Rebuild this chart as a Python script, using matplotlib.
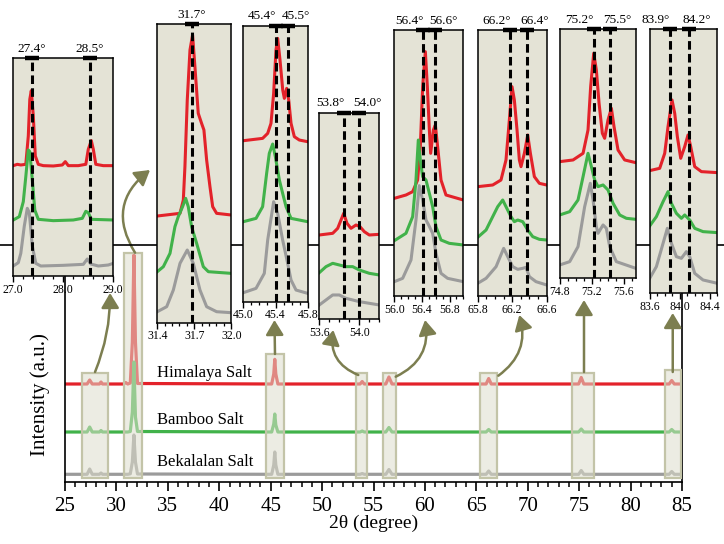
import numpy as np
import matplotlib
matplotlib.use('Agg')
import matplotlib.pyplot as plt
from matplotlib.patches import Rectangle, FancyArrowPatch
from matplotlib.lines import Line2D
from matplotlib.ticker import FixedLocator

plt.rcParams['font.family'] = ['Liberation Serif', 'DejaVu Serif']

# ---- full pattern (intensity in a.u., curves already offset) ----
main_x = [25, 27.15, 27.4, 27.65, 28.35, 28.5, 28.65, 30.7, 30.9, 31.1, 31.35, 31.55, 31.7, 31.85, 32.05,
          45.1, 45.3, 45.4, 45.5, 45.7, 53.7, 53.9, 54.1, 56.2, 56.5, 56.8, 65.95, 66.2, 66.45,
          74.95, 75.2, 75.45, 83.75, 84.0, 84.25, 85]
himalaya = [98, 98, 102, 98, 98, 100, 98, 98, 99.5, 98, 99, 140, 227, 140, 98.5,
            98, 108, 122.7, 108, 98, 98, 100.5, 98, 98, 105, 98, 98, 103.5, 98,
            98, 104.5, 98, 98, 101.5, 98, 98]
bamboo = [50, 50, 55, 50, 50, 51.5, 50, 50, 50, 50, 50.5, 70, 120, 65, 50.5,
          50, 58, 68, 57, 50, 50, 51, 50, 50, 54.5, 50, 50, 52.5, 50,
          50, 53, 50, 50, 52.5, 50, 50]
bekalalan = [7.7, 7.7, 13, 7.7, 7.7, 9, 7.7, 7.7, 7.7, 7.7, 8.2, 20, 47, 20, 8,
             7.7, 17, 30, 17, 7.7, 7.7, 8.5, 7.7, 7.7, 12.5, 7.7, 7.7, 11, 7.7,
             7.7, 11.5, 7.7, 7.7, 10.5, 7.7, 7.7]
sample_names = ['Himalaya Salt', 'Bamboo Salt', 'Bekalalan Salt']
name_y = [109.3, 62, 20.3]

# zoom windows on the full pattern
box_x0 = [26.68, 30.77, 44.55, 53.3, 55.97, 65.4, 74.35, 83.3]
box_x1 = [29.15, 32.46, 46.33, 54.4, 57.17, 67.05, 76.46, 84.9]
box_top = [109.3, 229.3, 128, 109.3, 109.3, 109.3, 109.3, 111.7]
box_bottom = 3.7

# arrows from windows to insets (main-axis data units)
arrow_from = [(27.92, 110), (31.81, 229.3), (45.42, 128), (53.52, 107), (57.16, 105.3),
              (67.14, 106.3), (75.47, 110), (84.1, 110)]
arrow_to = [(29.38, 189), (33.27, 312), (45.37, 162), (51.09, 152), (60.01, 162),
            (69.18, 167), (75.47, 182), (84.1, 169)]
arrow_rad = [0.1, -0.45, 0.0, -0.4, 0.38, 0.35, 0.0, 0.0]

# ---- insets: red = Himalaya, green = Bamboo, gray = Bekalalan ----
in1_x_red = [27.0, 27.08, 27.15, 27.25, 27.30, 27.33, 27.36, 27.40, 27.44, 27.50, 27.6, 27.8, 27.98, 28.04,
             28.10, 28.3, 28.45, 28.50, 28.56, 28.60, 28.65, 28.8, 29.0]
in1_y_red = [331, 335, 333, 335, 420, 530, 556, 480, 360, 335, 331, 330, 333, 343, 331, 331, 335, 380, 406,
             380, 335, 331, 331]
in1_x_green = [27.0, 27.12, 27.2, 27.25, 27.30, 27.33, 27.38, 27.43, 27.5, 27.8, 28.2, 28.38, 28.45, 28.5,
               28.56, 29.0]
in1_y_green = [168, 178, 223, 298, 378, 373, 288, 198, 170, 166, 168, 173, 194, 190, 170, 168]
in1_x_gray = [27.0, 27.1, 27.15, 27.22, 27.28, 27.32, 27.38, 27.45, 27.55, 28.0, 28.4, 28.48, 28.55, 28.7,
              28.9, 29.0]
in1_y_gray = [30, 40, 68, 150, 203, 190, 90, 38, 30, 32, 35, 51, 36, 30, 33, 38]

in2_x_red = [31.4, 31.584, 31.611, 31.624, 31.643, 31.665, 31.686, 31.705, 31.732, 31.759, 31.778, 31.8,
             31.827, 31.849, 31.881, 32.0]
in2_y_red = [320, 328, 368, 468, 668, 818, 863, 768, 628, 598, 578, 488, 408, 348, 328, 323]
in2_x_green = [31.4, 31.449, 31.503, 31.543, 31.57, 31.605, 31.63, 31.651, 31.678, 31.719, 31.773, 31.814, 32.0]
in2_y_green = [153, 168, 208, 288, 318, 348, 373, 348, 288, 238, 168, 153, 148]
in2_x_gray = [31.4, 31.476, 31.53, 31.584, 31.643, 31.692, 31.746, 31.8, 31.881, 32.0]
in2_y_gray = [33, 48, 98, 178, 218, 178, 98, 48, 33, 30]

in3_x_red = [45.0, 45.24, 45.303, 45.344, 45.377, 45.406, 45.427, 45.456, 45.49, 45.51, 45.539, 45.564,
             45.593, 45.634, 45.696, 45.8]
in3_y_red = [483, 490, 505, 535, 625, 755, 790, 725, 635, 610, 640, 605, 535, 495, 485, 480]
in3_x_green = [45.0, 45.158, 45.24, 45.29, 45.323, 45.365, 45.398, 45.448, 45.489, 45.531, 45.593, 45.8]
in3_y_green = [240, 250, 285, 385, 445, 473, 435, 365, 325, 285, 250, 240]
in3_x_gray = [45.0, 45.158, 45.261, 45.303, 45.377, 45.427, 45.489, 45.551, 45.593, 45.655, 45.8]
in3_y_gray = [27, 40, 85, 185, 300, 265, 185, 115, 65, 35, 25]

in4_x_red = [53.6, 53.734, 53.784, 53.817, 53.844, 53.877, 53.917, 53.967, 54.007, 54.05, 54.1, 54.2]
in4_y_red = [253, 258, 273, 298, 318, 288, 273, 283, 278, 263, 253, 255]
in4_x_green = [53.6, 53.667, 53.734, 53.8, 53.867, 53.934, 54.0, 54.1, 54.2]
in4_y_green = [140, 158, 168, 163, 158, 158, 148, 138, 133]
in4_x_gray = [53.6, 53.667, 53.734, 53.8, 53.867, 53.934, 54.0, 54.1, 54.2]
in4_y_gray = [43, 58, 73, 73, 63, 58, 53, 48, 43]

in5_x_red = [56.0, 56.169, 56.266, 56.338, 56.377, 56.411, 56.45, 56.479, 56.508, 56.527, 56.566, 56.595,
             56.628, 56.677, 56.749, 57.0]
in5_y_red = [293, 303, 313, 348, 448, 628, 733, 628, 498, 428, 498, 513, 448, 348, 303, 288]
in5_x_green = [56.0, 56.169, 56.266, 56.314, 56.348, 56.377, 56.411, 56.459, 56.508, 56.556, 56.604, 56.677,
               56.797, 57.0]
in5_y_green = [166, 188, 238, 348, 468, 408, 358, 348, 308, 268, 208, 168, 158, 153]
in5_x_gray = [56.0, 56.121, 56.242, 56.314, 56.362, 56.411, 56.459, 56.498, 56.556, 56.604, 56.677, 56.773, 57.0]
in5_y_gray = [43, 53, 108, 228, 331, 288, 228, 213, 188, 128, 68, 53, 43]

in6_x_red = [65.8, 65.974, 66.07, 66.128, 66.167, 66.198, 66.225, 66.256, 66.283, 66.302, 66.341, 66.38,
             66.411, 66.457, 66.515, 66.6]
in6_y_red = [328, 333, 348, 408, 528, 628, 588, 498, 408, 388, 428, 483, 428, 358, 338, 333]
in6_x_green = [65.8, 65.897, 65.974, 66.032, 66.09, 66.128, 66.186, 66.225, 66.264, 66.322, 66.38, 66.438,
               66.515, 66.6]
in6_y_green = [176, 198, 238, 268, 288, 268, 238, 223, 228, 223, 198, 178, 170, 168]
in6_x_gray = [65.8, 65.897, 66.013, 66.101, 66.148, 66.206, 66.264, 66.322, 66.36, 66.399, 66.476, 66.6]
in6_y_gray = [38, 53, 88, 143, 118, 88, 80, 83, 86, 58, 43, 33]

in7_x_red = [74.8, 74.967, 75.092, 75.154, 75.187, 75.225, 75.258, 75.292, 75.333, 75.362, 75.404, 75.446,
             75.479, 75.529, 75.612, 75.75]
in7_y_red = [350, 355, 375, 445, 575, 675, 625, 525, 435, 420, 475, 510, 455, 385, 355, 347]
in7_x_green = [74.8, 74.925, 75.029, 75.092, 75.154, 75.196, 75.237, 75.279, 75.342, 75.404, 75.467, 75.55,
               75.633, 75.75]
in7_y_green = [190, 200, 235, 305, 375, 335, 295, 275, 280, 265, 225, 190, 180, 177]
in7_x_gray = [74.8, 74.925, 75.029, 75.112, 75.183, 75.217, 75.258, 75.279, 75.342, 75.383, 75.425, 75.508, 75.75]
in7_y_gray = [40, 50, 95, 215, 285, 235, 155, 135, 160, 150, 95, 50, 30]

in8_x_red = [83.6, 83.733, 83.8, 83.844, 83.897, 83.933, 83.968, 84.013, 84.066, 84.11, 84.146, 84.199,
             84.288, 84.501]
in8_y_red = [368, 375, 420, 500, 580, 540, 470, 405, 440, 475, 440, 380, 365, 362]
in8_x_green = [83.6, 83.689, 83.778, 83.844, 83.889, 83.955, 84.022, 84.066, 84.133, 84.199, 84.31, 84.501]
in8_y_green = [202, 230, 275, 305, 270, 240, 225, 235, 220, 195, 185, 182]
in8_x_gray = [83.6, 83.689, 83.778, 83.835, 83.889, 83.955, 84.022, 84.088, 84.133, 84.199, 84.31, 84.501]
in8_y_gray = [45, 80, 150, 195, 150, 110, 105, 125, 110, 60, 40, 30]

inset_xlim = [(27.0, 29.0), (31.4, 32.0), (45.0, 45.8), (53.6, 54.2), (56.0, 57.0), (65.8, 66.6),
              (74.8, 75.75), (83.6, 84.5)]
inset_ymax = [653, 895, 828, 620, 798, 798, 747, 792]
inset_ticks = [[27.0, 28.0, 29.0], [31.4, 31.7, 32.0], [45.0, 45.4, 45.8], [53.6, 54.0],
               [56.0, 56.4, 56.8], [65.8, 66.2, 66.6], [74.8, 75.2, 75.6], [83.6, 84.0, 84.4]]
inset_minor = [0.2, 0.06, 0.1, 0.1, 0.1, 0.1, 0.1, 0.1]
peak_pos = [[27.37, 28.53], [31.68], [45.41, 45.55], [53.85, 54.0], [56.42, 56.59], [66.18, 66.37],
            [75.225, 75.425], [83.866, 84.124]]
peak_lab = [['27.4°', '28.5°'], ['31.7°'], ['45.4°', '45.5°'], ['53.8°', '54.0°'], ['56.4°', '56.6°'],
            ['66.2°', '66.4°'], ['75.2°', '75.5°'], ['83.9°', '84.2°']]
inset_curves = [
    [(in1_x_red, in1_y_red), (in1_x_green, in1_y_green), (in1_x_gray, in1_y_gray)],
    [(in2_x_red, in2_y_red), (in2_x_green, in2_y_green), (in2_x_gray, in2_y_gray)],
    [(in3_x_red, in3_y_red), (in3_x_green, in3_y_green), (in3_x_gray, in3_y_gray)],
    [(in4_x_red, in4_y_red), (in4_x_green, in4_y_green), (in4_x_gray, in4_y_gray)],
    [(in5_x_red, in5_y_red), (in5_x_green, in5_y_green), (in5_x_gray, in5_y_gray)],
    [(in6_x_red, in6_y_red), (in6_x_green, in6_y_green), (in6_x_gray, in6_y_gray)],
    [(in7_x_red, in7_y_red), (in7_x_green, in7_y_green), (in7_x_gray, in7_y_gray)],
    [(in8_x_red, in8_y_red), (in8_x_green, in8_y_green), (in8_x_gray, in8_y_gray)],
]

# layout (pixels: left, top, right, bottom)
W, H = 724, 544
inset_px = [(13.3, 58.3, 113.3, 276), (157.3, 24.3, 231.3, 322.7), (243.3, 25.7, 307.7, 301.7),
            (319.3, 112.7, 379.3, 319.3), (394.3, 30, 463.3, 296), (477.7, 30, 546.7, 296),
            (559.7, 29.3, 635.7, 278.3), (649.7, 29.3, 717.3, 293.3)]
centered_titles = [True, True, False, False, False, False, False, False]

red = '#e3222a'
green = '#41b24a'
gray = '#9b9b9b'
olive = '#7c7e50'
inset_bg = '#e4e3d6'

fig = plt.figure(figsize=(7.24, 5.44), dpi=100)

# main axes
ax = fig.add_axes([65 / W, 1 - 482 / H, 617 / W, 237 / H], zorder=0)
ax.set_facecolor('none')
for ys, c in zip([himalaya, bamboo, bekalalan], [red, green, gray]):
    ax.plot(main_x, ys, color=c, lw=2.3, zorder=2)
for x0, x1, top in zip(box_x0, box_x1, box_top):
    ax.add_patch(Rectangle((x0, box_bottom), x1 - x0, top - box_bottom,
                           facecolor=(0.87, 0.87, 0.80, 0.55), edgecolor='#c3c4a8', lw=1.6, zorder=3))
for name, y in zip(sample_names, name_y):
    ax.text(33.95, y, name, fontsize=12, va='center', ha='left', zorder=4)
for p0, p1, rad in zip(arrow_from, arrow_to, arrow_rad):
    ax.add_patch(FancyArrowPatch(p0, p1, connectionstyle=f'arc3,rad={rad}',
                                 arrowstyle='-|>,head_length=0.45,head_width=0.27', mutation_scale=20,
                                 color=olive, lw=1.8, shrinkA=0, shrinkB=0, clip_on=False, zorder=5))
ax.set_xlim(25, 85)
ax.set_ylim(0, 237)
ax.spines['top'].set_visible(False)
for s in ['left', 'right', 'bottom']:
    ax.spines[s].set_linewidth(1.2)
ax.set_yticks([])
ax.set_xticks(np.arange(25, 86, 5))
ax.xaxis.set_minor_locator(FixedLocator(np.arange(25, 86, 1)))
ax.tick_params(axis='x', which='major', direction='out', length=6.5, width=1.2, labelsize=15, pad=4)
ax.tick_params(axis='x', which='minor', direction='out', length=3.5, width=1.1)
ax.set_xlabel('2θ (degree)', fontsize=14)
ax.xaxis.set_label_coords(0.5, -0.14)
ax.set_ylabel('Intensity (a.u.)', fontsize=15)
ax.yaxis.set_label_coords(-0.025, 0.37)

fig.add_artist(Line2D([0, 1], [1 - 245 / H] * 2, transform=fig.transFigure, color='k', lw=1.2, zorder=1))

# insets
for i in range(8):
    l, t, r, b = inset_px[i]
    ia = fig.add_axes([l / W, 1 - b / H, (r - l) / W, (b - t) / H], zorder=3)
    ia.set_facecolor(inset_bg)
    for (xs, ys), c in zip(inset_curves[i], [red, green, gray]):
        ia.plot(xs, ys, color=c, lw=2.2, zorder=2)
    trans = ia.get_xaxis_transform()
    for j, (p, lab) in enumerate(zip(peak_pos[i], peak_lab[i])):
        ia.axvline(p, color='k', lw=2.2, ls=(0, (2.8, 1.4)), zorder=3)
        ia.plot(p, 1, marker='_', ms=9.5, mew=3.2, color='k', transform=trans, clip_on=False, zorder=4)
        if centered_titles[i]:
            ha, dx = 'center', 0
        elif j == 0:
            ha, dx = 'right', 0
        else:
            ha, dx = 'left', -4.5
        ia.annotate(lab, (p, 1), xycoords=trans, xytext=(dx, 4.5), textcoords='offset points',
                    ha=ha, va='baseline', fontsize=9.5)
    ia.set_xlim(*inset_xlim[i])
    ia.set_ylim(0, inset_ymax[i])
    ia.set_yticks([])
    ticks = inset_ticks[i]
    ia.set_xticks(ticks)
    ia.set_xticklabels([f'{v:.1f}' for v in ticks])
    lo, hi = inset_xlim[i]
    ia.xaxis.set_minor_locator(FixedLocator(np.arange(ticks[0], hi + 1e-6, inset_minor[i])))
    ia.tick_params(axis='x', which='major', direction='out', length=4, width=1.0, labelsize=8.5, pad=1.5)
    ia.tick_params(axis='x', which='minor', direction='out', length=2.2, width=0.9)
    for s in ia.spines.values():
        s.set_linewidth(1.1)

fig.savefig('out.png', dpi=100)
